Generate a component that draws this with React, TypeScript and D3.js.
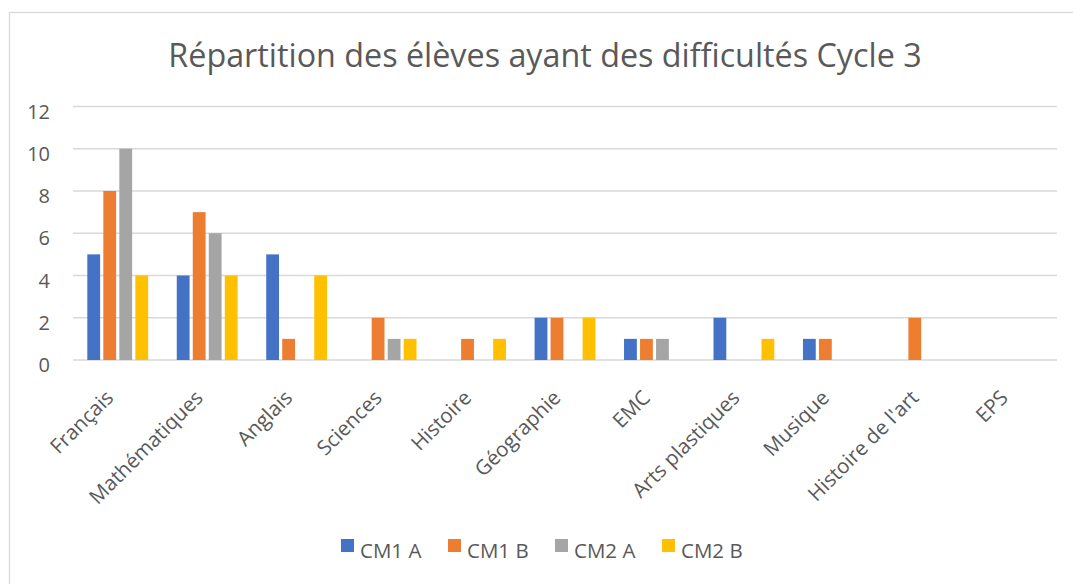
import React, {useEffect, useRef} from 'react';
import * as d3 from 'd3';

const categories = ['Français', 'Mathématiques', 'Anglais', 'Sciences', 'Histoire', 'Géographie', 'EMC', 'Arts plastiques', 'Musique', "Histoire de l'art", 'EPS'];
const seriesNames = ['CM1 A', 'CM1 B', 'CM2 A', 'CM2 B'];
const cm1a = [5, 4, 5, 0, 0, 2, 1, 2, 1, 0, 0];
const cm1b = [8, 7, 1, 2, 1, 2, 1, 0, 1, 2, 0];
const cm2a = [10, 6, 0, 1, 0, 0, 1, 0, 0, 0, 0];
const cm2b = [4, 4, 4, 1, 1, 2, 0, 1, 0, 0, 0];
const yTicks = [0, 2, 4, 6, 8, 10, 12];
const title = 'Répartition des élèves ayant des difficultés Cycle 3';

export default function App() {
  const svgRef = useRef(null);

  useEffect(() => {
    const svg = d3.select(svgRef.current);
    svg.selectAll('*').remove();

    const width = 1073;
    const height = 584;
    const font = '"Open Sans", sans-serif';
    const txt = '#595959';
    const colors = ['#4472C4', '#ED7D31', '#A5A5A5', '#FFC000'];
    const series = [cm1a, cm1b, cm2a, cm2b];

    svg.attr('width', width).attr('height', height).attr('font-family', font);

    svg.append('rect').attr('width', width).attr('height', height).attr('fill', '#fff');
    svg.append('rect')
      .attr('x', 9.5).attr('y', 12.5)
      .attr('width', 1200).attr('height', 700)
      .attr('fill', 'none').attr('stroke', '#D9D9D9').attr('stroke-width', 1.3);

    svg.append('text')
      .attr('x', 545).attr('y', 67)
      .attr('text-anchor', 'middle')
      .attr('font-size', 32.3)
      .attr('fill', txt)
      .text(title);

    const x0 = d3.scaleBand()
      .domain(categories)
      .range([73, 1057])
      .paddingInner(0.32)
      .paddingOuter(0.16);

    const x1 = d3.scaleBand()
      .domain(seriesNames)
      .range([0, x0.bandwidth()])
      .paddingInner(0.2);

    const y = d3.scaleLinear().domain([0, 12]).range([360, 106.5]);

    // gridlines
    svg.append('g')
      .selectAll('line')
      .data(yTicks)
      .join('line')
      .attr('x1', 73).attr('x2', 1057)
      .attr('y1', d => y(d)).attr('y2', d => y(d))
      .attr('stroke', '#D9D9D9').attr('stroke-width', 1.3);

    svg.append('g')
      .selectAll('text')
      .data(yTicks)
      .join('text')
      .attr('x', 50)
      .attr('y', d => y(d) + 12)
      .attr('text-anchor', 'end')
      .attr('font-size', 20)
      .attr('fill', txt)
      .text(d => d);

    // bars
    svg.append('g')
      .selectAll('g')
      .data(categories)
      .join('g')
      .attr('transform', d => `translate(${x0(d)},0)`)
      .selectAll('rect')
      .data((d, i) => series.map((s, k) => ({name: seriesNames[k], value: s[i], color: colors[k]})))
      .join('rect')
      .attr('x', d => x1(d.name))
      .attr('width', x1.bandwidth())
      .attr('y', d => y(d.value))
      .attr('height', d => y(0) - y(d.value))
      .attr('fill', d => d.color);

    // category labels
    svg.append('g')
      .selectAll('text')
      .data(categories)
      .join('text')
      .attr('transform', d => `translate(${x0(d) + x0.bandwidth() / 2 - 3},399) rotate(-45)`)
      .attr('text-anchor', 'end')
      .attr('font-size', 20.5)
      .attr('fill', txt)
      .text(d => d);

    // legend
    const lx = d3.scaleBand().domain(seriesNames).range([341, 769]);
    const leg = svg.append('g')
      .selectAll('g')
      .data(seriesNames)
      .join('g')
      .attr('transform', d => `translate(${lx(d)},539)`);
    leg.append('rect')
      .attr('width', 13).attr('height', 13)
      .attr('fill', (d, i) => colors[i]);
    leg.append('text')
      .attr('x', 19).attr('y', 19)
      .attr('font-size', 20.5)
      .attr('fill', txt)
      .text(d => d);
  }, []);

  return (
    <svg ref={svgRef} style={{position: 'absolute', left: 0, top: 0}}></svg>
  );
}
